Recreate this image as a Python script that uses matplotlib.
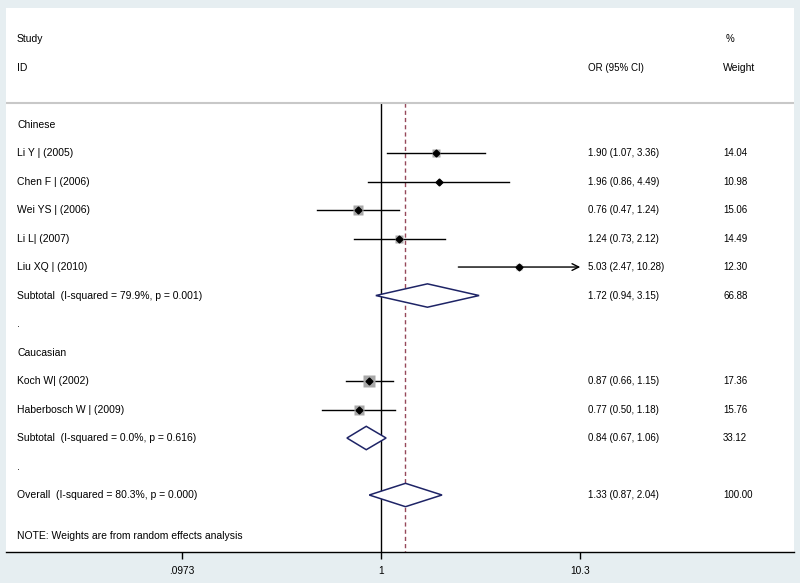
import matplotlib.pyplot as plt
from matplotlib.patches import Polygon
from matplotlib.transforms import blended_transform_factory

# ---- DATA ----
study_labels = ["Li Y | (2005)", "Chen F | (2006)", "Wei YS | (2006)", "Li L| (2007)",
                "Liu XQ | (2010)", "Koch W| (2002)", "Haberbosch W | (2009)"]
study_or = [1.90, 1.96, 0.76, 1.24, 5.03, 0.87, 0.77]
study_lo = [1.07, 0.86, 0.47, 0.73, 2.47, 0.66, 0.50]
study_hi = [3.36, 4.49, 1.24, 2.12, 10.28, 1.15, 1.18]
study_w = [14.04, 10.98, 15.06, 14.49, 12.30, 17.36, 15.76]
study_rows = [4, 5, 6, 7, 8, 12, 13]
study_arrow = [False, False, False, False, True, False, False]

pool_labels = ["Subtotal  (I-squared = 79.9%, p = 0.001)",
               "Subtotal  (I-squared = 0.0%, p = 0.616)",
               "Overall  (I-squared = 80.3%, p = 0.000)"]
pool_or = [1.72, 0.84, 1.33]
pool_lo = [0.94, 0.67, 0.87]
pool_hi = [3.15, 1.06, 2.04]
pool_w = [66.88, 33.12, 100.00]
pool_rows = [9, 14, 16]

group_labels = ["Chinese", ".", "Caucasian", "."]
group_rows = [3, 10, 11, 15]

xticks = [0.0973, 1, 10.3]
xticklabels = [".0973", "1", "10.3"]

# ---- STYLE ----
plt.rcParams.update({
    "font.family": ["Liberation Sans", "DejaVu Sans"],
    "font.size": 7,
})
bg = "#e6eef1"
navy = "#1e2466"
lab_fs = 7.5

fig = plt.figure(figsize=(8, 5.83), dpi=100, facecolor=bg)
ax = fig.add_axes([6 / 800, 31 / 583, 788 / 800, 544 / 583])
ax.set_facecolor("white")
ax.set_xscale("log")
ax.set_xlim(10 ** -1.908, 10 ** 2.10)
ax.set_ylim(18.0, -1.09)

for s in ["top", "right", "left"]:
    ax.spines[s].set_visible(False)
ax.spines["bottom"].set_linewidth(1.0)
ax.set_yticks([])
ax.set_xticks(xticks)
ax.set_xticklabels(xticklabels)
ax.minorticks_off()
ax.tick_params(axis="x", direction="out", length=5, width=1, pad=5, labelsize=7.3)

tr = blended_transform_factory(ax.transAxes, ax.transData)
x_lab, x_or, x_w = 0.014, 0.7386, 0.91

# header
ax.text(x_lab, 0, "Study", transform=tr, va="center", fontsize=lab_fs)
ax.text(x_lab, 1, "ID", transform=tr, va="center", fontsize=lab_fs)
ax.text(x_or, 1, "OR (95% CI)", transform=tr, va="center")
ax.text(x_w + 0.003, 0, "%", transform=tr, va="center")
ax.text(x_w, 1, "Weight", transform=tr, va="center", fontsize=lab_fs)
ax.axhline(2.25, color="#c8c8c8", lw=1.5)

# reference lines
ax.plot([1, 1], [2.25, 18.0], color="black", lw=1.0, zorder=1)
ax.plot([pool_or[-1]] * 2, [2.25, 18.0], color="#96485a", lw=1.0,
        dashes=(3, 2.2), zorder=1)

for lab, r in zip(group_labels, group_rows):
    ax.text(x_lab, r, lab, transform=tr, va="center", fontsize=lab_fs)

# studies
for lab, o, lo, hi, w, r, arr in zip(study_labels, study_or, study_lo, study_hi,
                                      study_w, study_rows, study_arrow):
    if arr:
        ax.annotate("", xy=(xticks[-1], r), xytext=(lo, r),
                    arrowprops=dict(arrowstyle="->", lw=1.0, color="black",
                                    mutation_scale=12, shrinkA=0, shrinkB=0))
    else:
        ax.plot([lo, hi], [r, r], color="black", lw=1.0, zorder=2)
    ax.plot(o, r, marker="s", ms=(w - 8.5) * 1.0, color="#a8a8a8", mec="none", zorder=3)
    ax.plot(o, r, marker="D", ms=3.5, color="black", zorder=4)
    ax.text(x_lab, r, lab, transform=tr, va="center", fontsize=lab_fs)
    ax.text(x_or, r, f"{o:.2f} ({lo:.2f}, {hi:.2f})", transform=tr, va="center")
    ax.text(x_w, r, f"{w:.2f}", transform=tr, va="center")

# pooled diamonds
h = 0.41
for lab, o, lo, hi, w, r in zip(pool_labels, pool_or, pool_lo, pool_hi, pool_w, pool_rows):
    d = Polygon([(lo, r), (o, r - h), (hi, r), (o, r + h)], closed=True,
                facecolor="white", edgecolor=navy, lw=1.1, zorder=3)
    ax.add_patch(d)
    ax.text(x_lab, r, lab, transform=tr, va="center", fontsize=lab_fs)
    ax.text(x_or, r, f"{o:.2f} ({lo:.2f}, {hi:.2f})", transform=tr, va="center")
    ax.text(x_w, r, f"{w:.2f}", transform=tr, va="center")

ax.text(x_lab, 17.45, "NOTE: Weights are from random effects analysis", transform=tr,
        va="center", fontsize=lab_fs)

fig.savefig("out.png", dpi=100, facecolor=bg)
